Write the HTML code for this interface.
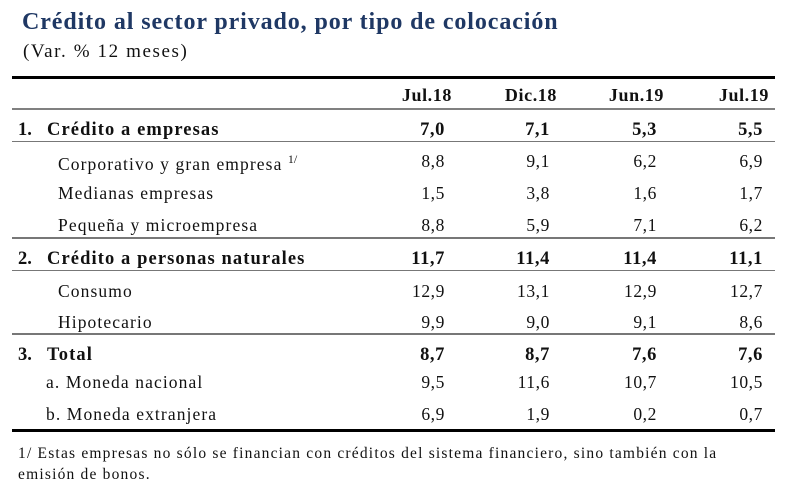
<!DOCTYPE html>
<html><head><meta charset="utf-8">
<style>
body{margin:0;background:#fff;width:799px;height:498px;position:relative;overflow:hidden;font-family:"Liberation Serif",serif;color:#111}
.t{position:absolute;white-space:nowrap;line-height:1}
.ln{position:absolute;left:12px;width:763px}
.r{position:absolute;white-space:nowrap;line-height:1;text-align:right;width:80px}
</style></head><body>
<div class="t" style="left:22px;top:10px;font-size:24px;font-weight:bold;color:#1f3864;letter-spacing:0.9px">Crédito al sector privado, por tipo de colocación</div>
<div class="t" style="left:23px;top:42px;font-size:19px;letter-spacing:1.6px">(Var. % 12 meses)</div>
<div class="ln" style="top:76px;height:3px;background:#000"></div>
<div class="ln" style="top:108px;height:2px;background:#808080"></div>
<div class="ln" style="top:141px;height:1px;background:#777"></div>
<div class="ln" style="top:237px;height:2px;background:#777"></div>
<div class="ln" style="top:270px;height:1px;background:#777"></div>
<div class="ln" style="top:333px;height:2px;background:#777"></div>
<div class="ln" style="top:429px;height:3px;background:#000"></div>
<div id="tbl"></div>
<div class="t" style="left:18px;top:443px;font-size:15.5px;line-height:21px;letter-spacing:1.2px">1/ Estas empresas no sólo se financian con créditos del sistema financiero, sino también con la<br>emisión de bonos.</div>
<script>
const headers=["Jul.18","Dic.18","Jun.19","Jul.19"];
const labels=["Crédito a empresas","Corporativo y gran empresa","Medianas empresas","Pequeña y microempresa","Crédito a personas naturales","Consumo","Hipotecario","Total","a. Moneda nacional","b. Moneda extranjera"];
const nums=["1.","","","","2.","","","3.","",""];
const bold=[1,0,0,0,1,0,0,1,0,0];
const indent=[47,58,58,58,47,58,58,47,46,46];
const rowY=[130,162,194,226,259,292,323,355,383,415];
const jul18=["7,0","8,8","1,5","8,8","11,7","12,9","9,9","8,7","9,5","6,9"];
const dic18=["7,1","9,1","3,8","5,9","11,4","13,1","9,0","8,7","11,6","1,9"];
const jun19=["5,3","6,2","1,6","7,1","11,4","12,9","9,1","7,6","10,7","0,2"];
const jul19=["5,5","6,9","1,7","6,2","11,1","12,7","8,6","7,6","10,5","0,7"];
const series=[jul18,dic18,jun19,jul19];
const colRight=[445,550,657,763];
const hdrRight=[452,557,664,769];
const tbl=document.getElementById('tbl');
headers.forEach((h,i)=>{
  const d=document.createElement('div');d.className='r';
  
  
  d.style.left=(hdrRight[i]-80)+'px';d.style.top='86px';d.style.fontSize='18px';d.style.fontWeight='bold';d.style.letterSpacing='0.6px';
  d.textContent=h;tbl.appendChild(d);
});
labels.forEach((l,r)=>{
  const fs=bold[r]?'18.5px':'17.5px';
  if(nums[r]){
    const n=document.createElement('div');n.className='t';
    
    
    n.style.left='18px';n.style.top=(rowY[r]-9)+'px';n.style.fontSize=fs;n.style.fontWeight='bold';
    n.textContent=nums[r];tbl.appendChild(n);
  }
  const d=document.createElement('div');d.className='t';
  
  
  d.style.left=indent[r]+'px';d.style.top=(rowY[r]-9)+'px';
  d.style.fontSize=fs;d.style.fontWeight=bold[r]?'bold':'normal';
  d.style.letterSpacing=bold[r]?'1.1px':'1.1px';
  d.innerHTML=l+(r==1?' <sup style="font-size:12px;letter-spacing:0">1/</sup>':'');
  tbl.appendChild(d);
  series.forEach((s,c)=>{
    const v=document.createElement('div');v.className='r';
    
    
    v.style.left=(colRight[c]-80)+'px';v.style.top=(rowY[r]-9)+'px';
    v.style.fontSize=fs;v.style.fontWeight=bold[r]?'bold':'normal';v.style.letterSpacing='0.6px';
    v.textContent=s[r];tbl.appendChild(v);
  });
});
</script>
</body></html>
